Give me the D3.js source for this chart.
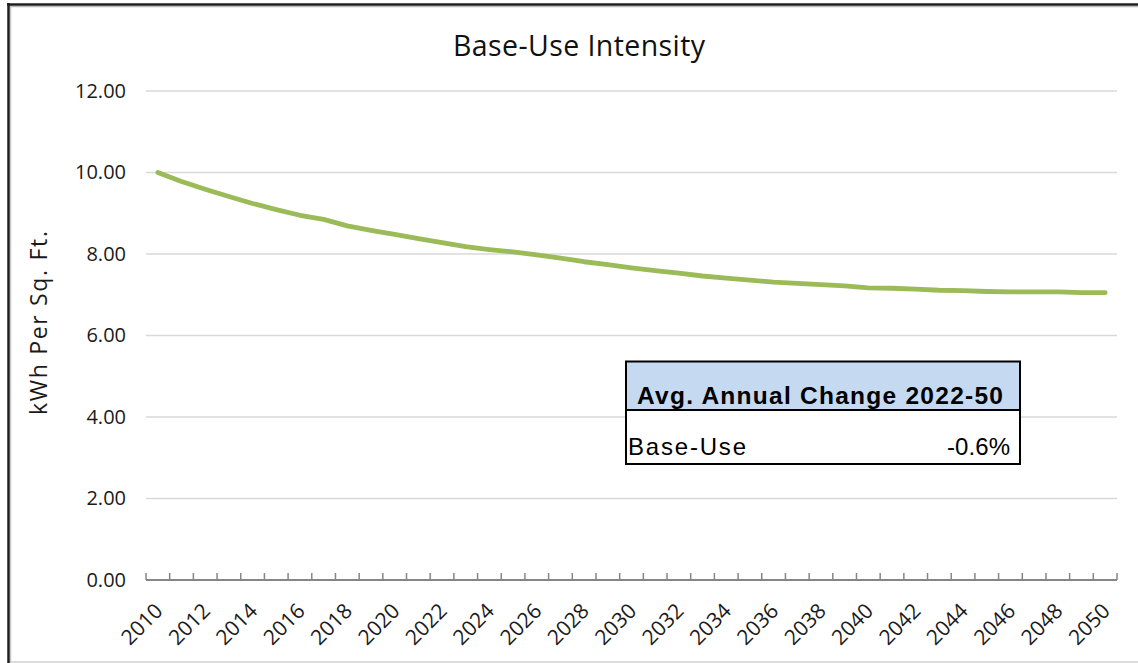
<!DOCTYPE html>
<html>
<head>
<meta charset="utf-8">
<script src="https://cdn.jsdelivr.net/npm/d3@7"></script>
<style>
  html, body { margin: 0; padding: 0; background: #fff; }
  svg { display: block; }
</style>
</head>
<body>
<svg id="chart" width="1138" height="663"></svg>
<script>
// Base-use electricity intensity, kWh per sq. ft., 2010-2050
const years = d3.range(2010, 2051);
const intensity = [
  10.00, 9.78, 9.59, 9.41, 9.24, 9.09, 8.95, 8.85, 8.69, 8.58,
  8.48, 8.38, 8.28, 8.18, 8.11, 8.05, 7.98, 7.90, 7.81, 7.74,
  7.66, 7.59, 7.53, 7.46, 7.41, 7.36, 7.31, 7.28, 7.25, 7.22,
  7.17, 7.16, 7.14, 7.11, 7.10, 7.08, 7.07, 7.07, 7.07, 7.05,
  7.05
];
const yTicks = [0, 2, 4, 6, 8, 10, 12];
const xTickLabels = years.filter(y => y % 2 === 0);
const tableHeader = "Avg. Annual Change 2022-50";
const tableRowLabel = "Base-Use";
const tableRowValue = "-0.6%";

const svg = d3.select("#chart");
const W = 1138, H = 663;
const plot = { left: 146, right: 1117, top: 91, bottom: 580 };

// chart frame
svg.append("rect").attr("x", 0).attr("y", 0).attr("width", W).attr("height", H).attr("fill", "#fff");
svg.append("line").attr("x1", 8).attr("x2", W).attr("y1", 662).attr("y2", 662)
  .attr("stroke", "#d0d0d0").attr("stroke-width", 1.5);
svg.append("line").attr("x1", 9).attr("x2", W).attr("y1", 6.5).attr("y2", 6.5)
  .attr("stroke", "#bbbbbb").attr("stroke-width", 1.5);
svg.append("line").attr("x1", 10.5).attr("x2", 10.5).attr("y1", 5).attr("y2", 663)
  .attr("stroke", "#c8c8c8").attr("stroke-width", 1.5);
svg.append("line").attr("x1", 7).attr("x2", W).attr("y1", 4.5).attr("y2", 4.5)
  .attr("stroke", "#1f1f1f").attr("stroke-width", 2.5);
svg.append("line").attr("x1", 8.5).attr("x2", 8.5).attr("y1", 3).attr("y2", 663)
  .attr("stroke", "#1f1f1f").attr("stroke-width", 2.5);

const x = d3.scaleBand().domain(years).range([plot.left, plot.right]).padding(0);
const y = d3.scaleLinear().domain([0, 12]).range([plot.bottom, plot.top]);
const cx = d => x(d) + x.bandwidth() / 2;

const font = "'Open Sans', 'DejaVu Sans', sans-serif";

// horizontal gridlines
svg.append("g").selectAll("line").data(yTicks.filter(t => t > 0)).join("line")
  .attr("x1", plot.left).attr("x2", plot.right)
  .attr("y1", d => y(d)).attr("y2", d => y(d))
  .attr("stroke", "#d9d9d9").attr("stroke-width", 1.5);

// y axis labels
const yAxis = d3.axisLeft(y).tickValues(yTicks).tickFormat(d3.format(".2f")).tickSize(0).tickPadding(20);
const gy = svg.append("g").attr("transform", `translate(${plot.left},0)`).call(yAxis);
gy.select(".domain").remove();
gy.selectAll("text").attr("font-family", font).attr("font-size", 20).attr("fill", "#1a1a1a");

// x axis: category boundaries get tick marks pointing up
const gx = svg.append("g");
gx.append("line").attr("x1", plot.left).attr("x2", plot.right)
  .attr("y1", plot.bottom).attr("y2", plot.bottom)
  .attr("stroke", "#868686").attr("stroke-width", 2);
const boundaries = years.map(d => x(d)).concat([plot.right]);
gx.selectAll("line.tick").data(boundaries).join("line").attr("class", "tick")
  .attr("x1", d => d).attr("x2", d => d)
  .attr("y1", plot.bottom).attr("y2", plot.bottom - 7)
  .attr("stroke", "#868686").attr("stroke-width", 1.5);
gx.selectAll("text").data(xTickLabels).join("text")
  .attr("transform", d => `translate(${cx(d) + 1},${plot.bottom + 27}) rotate(-45)`)
  .attr("text-anchor", "end")
  .attr("dy", "0.35em")
  .attr("font-family", font).attr("font-size", 21).attr("fill", "#1a1a1a")
  .text(d => d);

// y axis title
svg.append("text")
  .attr("transform", `translate(47,${323}) rotate(-90)`)
  .attr("text-anchor", "middle")
  .attr("font-family", font).attr("font-size", 23).attr("fill", "#1a1a1a")
  .attr("textLength", 184).attr("lengthAdjust", "spacing")
  .text("kWh Per Sq. Ft.");

// chart title
svg.append("text")
  .attr("x", 579).attr("y", 56)
  .attr("text-anchor", "middle")
  .attr("font-family", font).attr("font-size", 28.5).attr("fill", "#111")
  .attr("textLength", 252).attr("lengthAdjust", "spacing")
  .text("Base-Use Intensity");

// series line
const line = d3.line().x((d, i) => cx(years[i])).y(d => y(d));
svg.append("path").datum(intensity)
  .attr("d", line)
  .attr("fill", "none")
  .attr("stroke", "#9bbb59")
  .attr("stroke-width", 4.8)
  .attr("stroke-linecap", "round")
  .attr("stroke-linejoin", "round");

// summary table
const tb = { x: 626, y: 361.5, w: 394, hh: 48.5, rh: 54 };
const tg = svg.append("g");
tg.append("rect").attr("x", tb.x).attr("y", tb.y).attr("width", tb.w).attr("height", tb.hh + tb.rh)
  .attr("fill", "#fff");
tg.append("rect").attr("x", tb.x).attr("y", tb.y).attr("width", tb.w).attr("height", tb.hh)
  .attr("fill", "#c5d9f1");
tg.append("line").attr("x1", tb.x).attr("x2", tb.x + tb.w)
  .attr("y1", tb.y + tb.hh).attr("y2", tb.y + tb.hh)
  .attr("stroke", "#000").attr("stroke-width", 2);
tg.append("rect").attr("x", tb.x).attr("y", tb.y).attr("width", tb.w).attr("height", tb.hh + tb.rh)
  .attr("fill", "none").attr("stroke", "#000").attr("stroke-width", 2);
const tfont = "'Liberation Sans', Arial, sans-serif";
tg.append("text")
  .attr("x", tb.x + 11).attr("y", tb.y + 42)
  .attr("font-family", tfont).attr("font-weight", "bold").attr("font-size", 24.5).attr("fill", "#000")
  .attr("textLength", 366).attr("lengthAdjust", "spacing")
  .text(tableHeader);
tg.append("text")
  .attr("x", tb.x + 2).attr("y", tb.y + tb.hh + 45)
  .attr("font-family", tfont).attr("font-size", 24).attr("fill", "#000")
  .attr("textLength", 118).attr("lengthAdjust", "spacing")
  .text(tableRowLabel);
tg.append("text")
  .attr("x", tb.x + tb.w - 73).attr("y", tb.y + tb.hh + 45)
  .attr("font-family", tfont).attr("font-size", 24).attr("fill", "#000")
  .attr("textLength", 63).attr("lengthAdjust", "spacing")
  .text(tableRowValue);
</script>
</body>
</html>
